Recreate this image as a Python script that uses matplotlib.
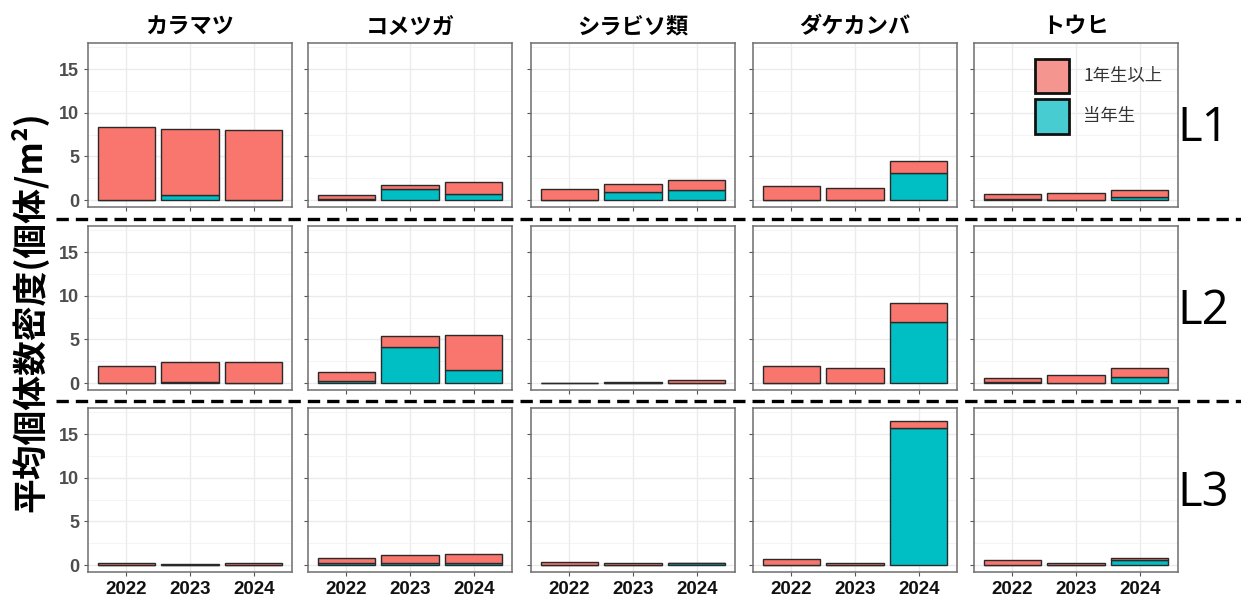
import matplotlib
matplotlib.use("Agg")
import matplotlib.pyplot as plt
from matplotlib.lines import Line2D
from matplotlib.patches import Patch
from matplotlib.ticker import MultipleLocator

# Data: mean density (individuals / m2), per level, per species, years 2022-2024
species = ["カラマツ", "コメツガ", "シラビソ類", "ダケカンバ", "トウヒ"]
years = ["2022", "2023", "2024"]
levels = ["L1", "L2", "L3"]
yticks = [0, 5, 10, 15]

# 当年生 (current-year seedlings)
current_L1 = [[0.05, 0.57, 0.05], [0.10, 1.26, 0.65], [0.0, 0.92, 1.15], [0.0, 0.0, 3.05], [0.07, 0.0, 0.34]]
current_L2 = [[0.0, 0.15, 0.0], [0.27, 4.08, 1.50], [0.0, 0.05, 0.05], [0.0, 0.0, 6.96], [0.12, 0.0, 0.73]]
current_L3 = [[0.05, 0.05, 0.05], [0.27, 0.27, 0.27], [0.0, 0.05, 0.20], [0.0, 0.0, 15.72], [0.0, 0.0, 0.53]]

# 1年生以上 (one year and older)
older_L1 = [[8.31, 7.56, 7.93], [0.47, 0.42, 1.45], [1.30, 0.87, 1.10], [1.64, 1.41, 1.42], [0.66, 0.84, 0.84]]
older_L2 = [[1.92, 2.23, 2.46], [1.04, 1.27, 3.96], [0.05, 0.10, 0.33], [1.92, 1.69, 2.19], [0.50, 0.96, 0.96]]
older_L3 = [[0.22, 0.10, 0.22], [0.57, 0.91, 1.02], [0.38, 0.15, 0.05], [0.65, 0.27, 0.80], [0.53, 0.27, 0.31]]

current = [current_L1, current_L2, current_L3]
older = [older_L1, older_L2, older_L3]

pink = "#F8766D"
teal = "#00BFC4"

W, H = 1241, 599
fig = plt.figure(figsize=(W / 100, H / 100), dpi=100)

col_left = [88, 308, 531, 753, 974]
row_top = [43, 226, 408]
pw, ph = 204, 164

cjk = ["Noto Sans CJK JP", "DejaVu Sans"]
x = [1, 2, 3]

for r in range(3):
    for c in range(5):
        ax = fig.add_axes([col_left[c] / W, 1 - (row_top[r] + ph) / H, pw / W, ph / H])
        cur = current[r][c]
        old = older[r][c]
        ax.bar(x, cur, width=0.9, color=teal, edgecolor="#2A2A2A", linewidth=1, zorder=3)
        ax.bar(x, old, bottom=cur, width=0.9, color=pink, edgecolor="#2A2A2A", linewidth=1, zorder=3)

        ax.set_xlim(0.4, 3.6)
        ax.set_ylim(-0.8, 18)
        ax.set_yticks(yticks)
        ax.yaxis.set_minor_locator(MultipleLocator(2.5))
        ax.set_xticks(x)
        ax.grid(True, which="major", color="#EBEBEB", linewidth=1, zorder=0)
        ax.grid(True, which="minor", axis="y", color="#F2F2F2", linewidth=0.6, zorder=0)
        ax.tick_params(which="minor", length=0)
        ax.tick_params(which="major", length=3, color="#555555", width=0.8)
        for s in ax.spines.values():
            s.set_color("#6E6E6E")
            s.set_linewidth(1.1)

        if c == 0:
            ax.set_yticklabels([str(v) for v in yticks], fontfamily="Liberation Sans",
                               fontweight="bold", fontsize=13, color="#4D4D4D")
        else:
            ax.set_yticklabels([])
        if r == 2:
            ax.set_xticklabels(years, fontfamily="Liberation Sans", fontweight="bold", fontsize=13.5, color="#111111")
        else:
            ax.set_xticklabels([])

        if r == 0:
            ax.set_title(species[c], family=cjk, fontweight="bold", fontsize=16, pad=7)

        if r == 0 and c == 4:
            handles = [
                Patch(facecolor="#F4968F", edgecolor="#111111", linewidth=2),
                Patch(facecolor="#47CDD1", edgecolor="#111111", linewidth=2),
            ]
            leg = ax.legend(handles, ["1年生以上", "当年生"], loc="upper right", frameon=False,
                            prop={"family": cjk, "size": 12.5}, handlelength=2.0, handleheight=2.7,
                            labelspacing=0.32, handletextpad=0.8, borderpad=0.4, borderaxespad=0.5)
            for t in leg.get_texts():
                t.set_color("#333333")

# row labels
for r, lab in enumerate(levels):
    yc = row_top[r] + ph / 2 + 3
    fig.text(1203 / W, 1 - yc / H, lab, fontsize=34, family="Open Sans", ha="center", va="center")

# dashed separators
for yy in [219, 401]:
    fig.add_artist(Line2D([0.045, 1.0], [1 - yy / H, 1 - yy / H], transform=fig.transFigure,
                          color="black", linewidth=2.4, linestyle=(0, (3.7, 2.1)), zorder=0))

fig.text(29 / W, 1 - 312 / H, "平均個体数密度(個体/m²)", rotation=90, family=cjk,
         fontweight="bold", fontsize=25, ha="center", va="center")

fig.savefig("out.png", dpi=100)
